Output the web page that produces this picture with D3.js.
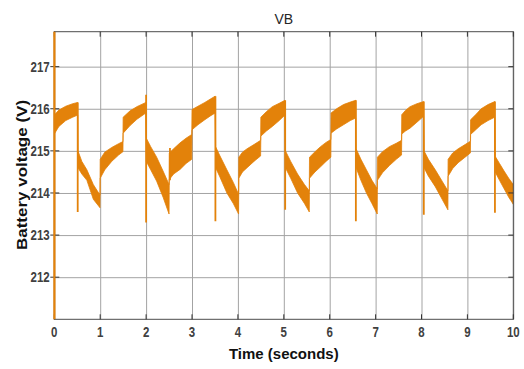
<!DOCTYPE html>
<html>
  <head>
    <meta charset="utf-8">
    <title>VB</title>
    <script src="https://d3js.org/d3.v7.min.js"></script>
    <style>
      body { margin: 0; background: #fff; }
      text { font-family: "Liberation Sans", Arial, sans-serif; }
    </style>
  </head>
  <body>
    <svg id="chart" width="524" height="369"></svg>
    <script>
      // envelope of the battery voltage band (seconds, volts)
      var time = [
        0, 0.1, 0.25, 0.4, 0.51,
        0.515, 0.6, 0.71, 0.85, 0.995,
        1.0, 1.1, 1.25, 1.4, 1.495,
        1.5, 1.65, 1.8, 1.995,
        2.005, 2.1, 2.23, 2.37, 2.5,
        2.505, 2.6, 2.74, 2.87, 2.995,
        3.0, 3.13, 3.28, 3.4, 3.505,
        3.515, 3.6, 3.76, 3.9, 4.015,
        4.02, 4.1, 4.2, 4.35, 4.495,
        4.5, 4.62, 4.75, 4.9, 5.025,
        5.035, 5.15, 5.3, 5.45, 5.555,
        5.56, 5.68, 5.8, 5.92, 6.025,
        6.03, 6.15, 6.3, 6.45, 6.565,
        6.575, 6.68, 6.8, 6.92, 7.035,
        7.04, 7.15, 7.3, 7.45, 7.565,
        7.57, 7.65, 7.75, 7.9, 8.045,
        8.055, 8.15, 8.3, 8.45, 8.575,
        8.58, 8.68, 8.8, 8.95, 9.065,
        9.07, 9.2, 9.3, 9.45, 9.595,
        9.605, 9.7, 9.8, 9.9, 10
      ];
      var upper = [
        215.85, 215.97, 216.06, 216.12, 216.15,
        215.0, 214.75, 214.55, 214.2, 213.95,
        214.8, 214.97, 215.08, 215.17, 215.22,
        215.8, 215.95, 216.05, 216.15,
        215.3, 215.1, 214.85, 214.52, 214.2,
        214.95, 215.05, 215.19, 215.3, 215.39,
        215.98, 216.06, 216.15, 216.23, 216.3,
        215.1, 214.9, 214.55, 214.25, 213.97,
        214.85, 214.97, 215.05, 215.15, 215.25,
        215.8, 215.93, 216.05, 216.13, 216.2,
        215.0, 214.75, 214.45, 214.2, 214.05,
        214.85, 214.98, 215.1, 215.2, 215.27,
        215.9, 216.0, 216.1, 216.16, 216.2,
        215.05, 214.8, 214.55, 214.3, 214.1,
        214.85, 214.98, 215.1, 215.18, 215.25,
        215.86, 215.96, 216.05, 216.12, 216.17,
        215.0, 214.8, 214.55, 214.28, 214.05,
        214.8, 214.95, 215.05, 215.15, 215.23,
        215.74, 215.88, 216.0, 216.1, 216.17,
        214.87, 214.7, 214.52, 214.35, 214.2
      ];
      var lower = [
        215.4, 215.58, 215.72, 215.8, 215.85,
        214.6, 214.45, 214.3, 213.85, 213.65,
        214.35, 214.55, 214.75, 214.9, 214.98,
        215.42, 215.6, 215.75, 215.9,
        214.75, 214.55, 214.28, 213.9, 213.5,
        214.32, 214.45, 214.56, 214.7, 214.8,
        215.5, 215.62, 215.74, 215.83, 215.9,
        214.6, 214.4, 214.0, 213.75, 213.5,
        214.35, 214.5, 214.6, 214.75, 214.88,
        215.35, 215.47, 215.58, 215.72, 215.85,
        214.6, 214.35, 214.0, 213.75, 213.55,
        214.35, 214.5, 214.62, 214.75, 214.85,
        215.42, 215.52, 215.62, 215.72, 215.78,
        214.6, 214.3, 214.0, 213.75, 213.5,
        214.3, 214.48, 214.65, 214.8, 214.9,
        215.4, 215.47, 215.54, 215.68, 215.82,
        214.6, 214.4, 214.15, 213.85, 213.6,
        214.4, 214.58, 214.72, 214.85, 214.95,
        215.39, 215.52, 215.62, 215.72, 215.8,
        214.5, 214.3, 214.1, 213.9, 213.73
      ];
      // switching transients (vertical spikes)
      var spikeTime = [0, 0.51, 2.0, 2.52, 3.51, 5.03, 6.57, 8.05, 9.6];
      var spikeTop = [225, 216.15, 216.33, 215.07, 216.3, 216.2, 216.2, 216.17, 216.17];
      var spikeBottom = [200, 213.55, 213.3, 214.3, 213.33, 213.6, 213.33, 213.48, 213.53];
      var xTicks = [0, 1, 2, 3, 4, 5, 6, 7, 8, 9, 10];
      var yTicks = [212, 213, 214, 215, 216, 217];

      var orange = "#e3820a";
      var margin = { top: 31.7, right: 10.7, bottom: 49.7, left: 54.3 };
      var width = 524 - margin.left - margin.right;
      var height = 369 - margin.top - margin.bottom;

      var svg = d3.select("#chart");
      var g = svg.append("g")
        .attr("transform", "translate(" + margin.left + "," + margin.top + ")");

      var x = d3.scaleLinear().domain([0, 10]).range([0, width]);
      var y = d3.scaleLinear().domain([211, 217.83]).range([height, 0]);

      // grid
      g.append("g")
        .attr("class", "grid")
        .attr("transform", "translate(0," + height + ")")
        .call(d3.axisBottom(x).tickValues(xTicks).tickSize(-height).tickFormat(""));
      g.append("g")
        .attr("class", "grid")
        .call(d3.axisLeft(y).tickValues(yTicks).tickSize(-width).tickFormat(""));
      g.selectAll(".grid .domain").remove();
      g.selectAll(".grid line")
        .attr("stroke", "#a3a3a3")
        .attr("stroke-width", 1);

      // clip for the signal
      svg.append("defs").append("clipPath")
        .attr("id", "plotClip")
        .append("rect")
          .attr("width", width)
          .attr("height", height);

      var band = time.map(function(t, i) { return { t: t, hi: upper[i], lo: lower[i] }; });
      var area = d3.area()
        .x(function(d) { return x(d.t); })
        .y0(function(d) { return y(d.lo); })
        .y1(function(d) { return y(d.hi); });

      var plot = g.append("g").attr("clip-path", "url(#plotClip)");
      plot.append("path")
        .datum(band)
        .attr("d", area)
        .attr("fill", orange)
        .attr("stroke", orange)
        .attr("stroke-width", 0.8);

      plot.selectAll(".spike")
        .data(spikeTime)
        .enter().append("line")
          .attr("class", "spike")
          .attr("x1", function(d) { return x(d); })
          .attr("x2", function(d) { return x(d); })
          .attr("y1", function(d, i) { return y(spikeTop[i]); })
          .attr("y2", function(d, i) { return y(spikeBottom[i]); })
          .attr("stroke", orange)
          .attr("stroke-width", function(d) { return d === 0 ? 2 : 1.8; });

      // box
      g.append("rect")
        .attr("width", width)
        .attr("height", height)
        .attr("fill", "none")
        .attr("stroke", "#4d4d4d")
        .attr("stroke-width", 1);

      // tick marks (inside, plus a short stub outside on the left)
      var tickCol = "#333";
      g.selectAll(".xtickB").data(xTicks).enter().append("line")
        .attr("x1", function(d) { return x(d); }).attr("x2", function(d) { return x(d); })
        .attr("y1", height).attr("y2", height - 5)
        .attr("stroke", tickCol);
      g.selectAll(".xtickT").data(xTicks).enter().append("line")
        .attr("x1", function(d) { return x(d); }).attr("x2", function(d) { return x(d); })
        .attr("y1", 0).attr("y2", 5)
        .attr("stroke", tickCol);
      g.selectAll(".ytickL").data(yTicks).enter().append("line")
        .attr("x1", -4).attr("x2", 5)
        .attr("y1", function(d) { return y(d); }).attr("y2", function(d) { return y(d); })
        .attr("stroke", tickCol);
      g.selectAll(".ytickR").data(yTicks).enter().append("line")
        .attr("x1", width - 5).attr("x2", width)
        .attr("y1", function(d) { return y(d); }).attr("y2", function(d) { return y(d); })
        .attr("stroke", tickCol);

      // the orange trace sits over the left axis
      g.append("line")
        .attr("x1", 0).attr("x2", 0)
        .attr("y1", 0).attr("y2", height)
        .attr("stroke", orange)
        .attr("stroke-width", 2);

      // tick labels
      g.selectAll(".xlab").data(xTicks).enter().append("text")
        .attr("transform", function(d) { return "translate(" + x(d) + "," + (height + 18) + ") scale(0.82,1)"; })
        .attr("text-anchor", "middle")
        .attr("font-size", 14)
        .attr("font-weight", "bold")
        .attr("fill", "#404040")
        .text(function(d) { return d; });
      g.selectAll(".ylab").data(yTicks).enter().append("text")
        .attr("transform", function(d) { return "translate(-4.6," + (y(d) + 5) + ") scale(0.82,1)"; })
        .attr("text-anchor", "end")
        .attr("font-size", 14)
        .attr("font-weight", "bold")
        .attr("fill", "#404040")
        .text(function(d) { return d; });

      // titles
      svg.append("text")
        .attr("x", margin.left + width / 2)
        .attr("y", 24)
        .attr("text-anchor", "middle")
        .attr("font-size", 14)
        .attr("fill", "#262626")
        .text("VB");
      svg.append("text")
        .attr("x", margin.left + width / 2)
        .attr("y", 359)
        .attr("text-anchor", "middle")
        .attr("font-size", 15)
        .attr("font-weight", "bold")
        .attr("fill", "#111")
        .text("Time (seconds)");
      svg.append("text")
        .attr("transform", "translate(27,175) scale(0.85,1) rotate(-90)")
        .attr("text-anchor", "middle")
        .attr("font-size", 17)
        .attr("font-weight", "bold")
        .attr("fill", "#111")
        .text("Battery voltage (V)");
    </script>
  </body>
</html>
